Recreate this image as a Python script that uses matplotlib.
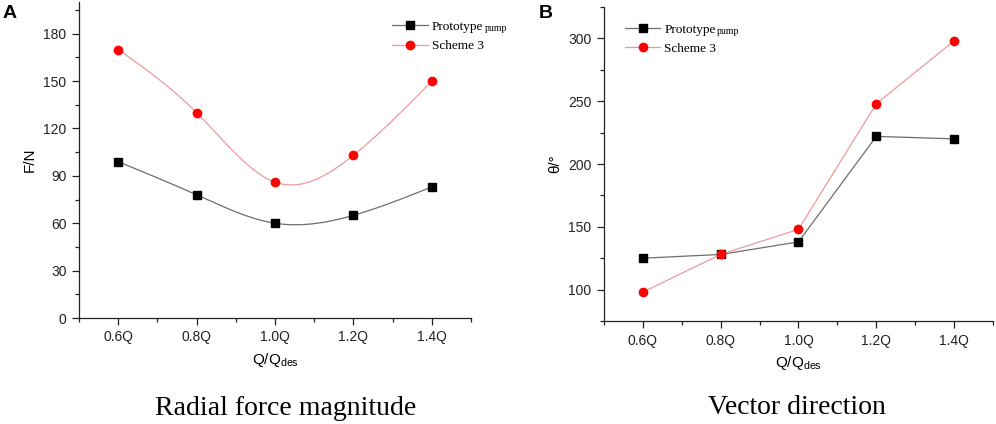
import matplotlib
matplotlib.use("Agg")
import matplotlib.pyplot as plt
import numpy as np
from matplotlib.ticker import MultipleLocator

plt.rcParams["font.family"] = ["Liberation Sans", "DejaVu Sans"]

# flow rates (fraction of design flow)
flow = [0.6, 0.8, 1.0, 1.2, 1.4]
flow_labels = ["0.6Q", "0.8Q", "1.0Q", "1.2Q", "1.4Q"]

# radial force magnitude F/N
force_proto = [99, 78, 60, 65, 83]
force_scheme = [170, 130, 86, 103, 150]

# vector direction theta/deg
angle_proto = [125, 128, 138, 222, 220]
angle_scheme = [98, 128, 148, 248, 298]

gray_line = "#6e6e6e"
red_line = "#eb9a9a"


def smooth(x, y, n=200):
    # natural cubic spline through the points, only used to draw the curve
    x = np.asarray(x, float)
    y = np.asarray(y, float)
    k = len(x)
    h = np.diff(x)
    A = np.zeros((k, k))
    b = np.zeros(k)
    A[0, 0] = 1
    A[-1, -1] = 1
    for i in range(1, k - 1):
        A[i, i - 1] = h[i - 1]
        A[i, i] = 2 * (h[i - 1] + h[i])
        A[i, i + 1] = h[i]
        b[i] = 6 * ((y[i + 1] - y[i]) / h[i] - (y[i] - y[i - 1]) / h[i - 1])
    m = np.linalg.solve(A, b)
    xs = np.linspace(x[0], x[-1], n)
    ys = np.zeros(n)
    for j, xv in enumerate(xs):
        i = min(np.searchsorted(x, xv, side="right") - 1, k - 2)
        t1 = x[i + 1] - xv
        t0 = xv - x[i]
        ys[j] = (m[i] * t1 ** 3 + m[i + 1] * t0 ** 3) / (6 * h[i]) \
            + (y[i] / h[i] - m[i] * h[i] / 6) * t1 \
            + (y[i + 1] / h[i] - m[i + 1] * h[i] / 6) * t0
    return xs, ys


def style_axes(ax):
    ax.spines["top"].set_visible(False)
    ax.spines["right"].set_visible(False)
    for s in ["left", "bottom"]:
        ax.spines[s].set_linewidth(0.9)
        ax.spines[s].set_color("#222222")
    ax.set_xlim(0.5, 1.5)
    ax.set_xticks(flow)
    ax.set_xticklabels(flow_labels)
    ax.xaxis.set_minor_locator(MultipleLocator(0.1))
    ax.tick_params(which="major", direction="out", length=5, width=0.9,
                   labelsize=10, colors="#222222", pad=4)
    ax.tick_params(which="minor", direction="out", length=3, width=0.9,
                   colors="#222222")
    ax.set_xlabel("Q/Q$_{\\mathregular{des}}$", fontsize=11, labelpad=5)


def add_legend(ax, h1, h2, loc):
    leg = ax.legend([h1, h2], ["Prototype", "Scheme 3"], loc="upper left",
                    bbox_to_anchor=loc, frameon=False,
                    prop={"family": "Liberation Serif", "size": 9.5},
                    handlelength=2.7, handletextpad=0.3, labelspacing=0.55,
                    borderaxespad=0)
    # small "pump" after the first label
    ax.annotate("pump", xy=(1, 0), xycoords=leg.get_texts()[0],
                xytext=(1, 0), textcoords="offset points",
                ha="left", va="bottom", fontsize=7,
                family="Liberation Serif")


fig = plt.figure(figsize=(9.96, 4.24), dpi=100)

# panel A: radial force magnitude
ax1 = fig.add_axes([0.0793, 0.25, 0.3936, 0.745])
xs, ys = smooth(flow, force_proto)
ax1.plot(xs, ys, color=gray_line, lw=0.9)
xs, ys = smooth(flow, force_scheme)
ax1.plot(xs, ys, color=red_line, lw=0.9)
ax1.plot(flow, force_proto, "s", color="black", ms=5.5)
ax1.plot(flow, force_scheme, "o", color="#ff0000", ms=6)
h1, = ax1.plot([], [], "-s", color=gray_line, mfc="black", mec="black", ms=5.5, lw=0.9)
h2, = ax1.plot([], [], "-o", color=red_line, mfc="#ff0000", mec="#ff0000", ms=6, lw=0.9)
ax1.set_ylim(0, 200)
ax1.yaxis.set_minor_locator(MultipleLocator(15))
ax1.set_ylabel("F/N", fontsize=11, labelpad=5)
style_axes(ax1)
ax1.set_yticks(range(0, 181, 30))
add_legend(ax1, h1, h2, (0.785, 0.958))

# panel B: vector direction
ax2 = fig.add_axes([0.6064, 0.2429, 0.3906, 0.7406])
ax2.plot(flow, angle_proto, "-s", color=gray_line, mfc="black", mec="black",
         ms=5.5, lw=0.9)
ax2.plot(flow, angle_scheme, "-o", color=red_line, mfc="#ff0000",
         mec="#ff0000", ms=6, lw=0.9)
ax2.set_ylim(75, 325)
ax2.set_yticks(range(100, 301, 50))
ax2.yaxis.set_minor_locator(MultipleLocator(25))
ax2.set_ylabel("θ/°", fontsize=11, labelpad=4)
style_axes(ax2)
h1, = ax2.plot([], [], "-s", color=gray_line, mfc="black", mec="black", ms=5.5, lw=0.9)
h2, = ax2.plot([], [], "-o", color=red_line, mfc="#ff0000", mec="#ff0000", ms=6, lw=0.9)
add_legend(ax2, h1, h2, (0.04, 0.965))

# panel letters and captions
fig.text(0.003, 0.988, "A", fontsize=14, fontweight="bold", va="top")
fig.text(0.541, 0.988, "B", fontsize=14, fontweight="bold", va="top")
fig.text(0.287, 0.036, "Radial force magnitude", ha="center", va="center",
         fontsize=20, family="Liberation Serif")
fig.text(0.800, 0.038, "Vector direction", ha="center", va="center",
         fontsize=20, family="Liberation Serif")

# first draw places the legend texts so the "pump" notes can follow them
fig.canvas.draw()
plt.savefig("out.png", dpi=100)
plt.close(fig)
